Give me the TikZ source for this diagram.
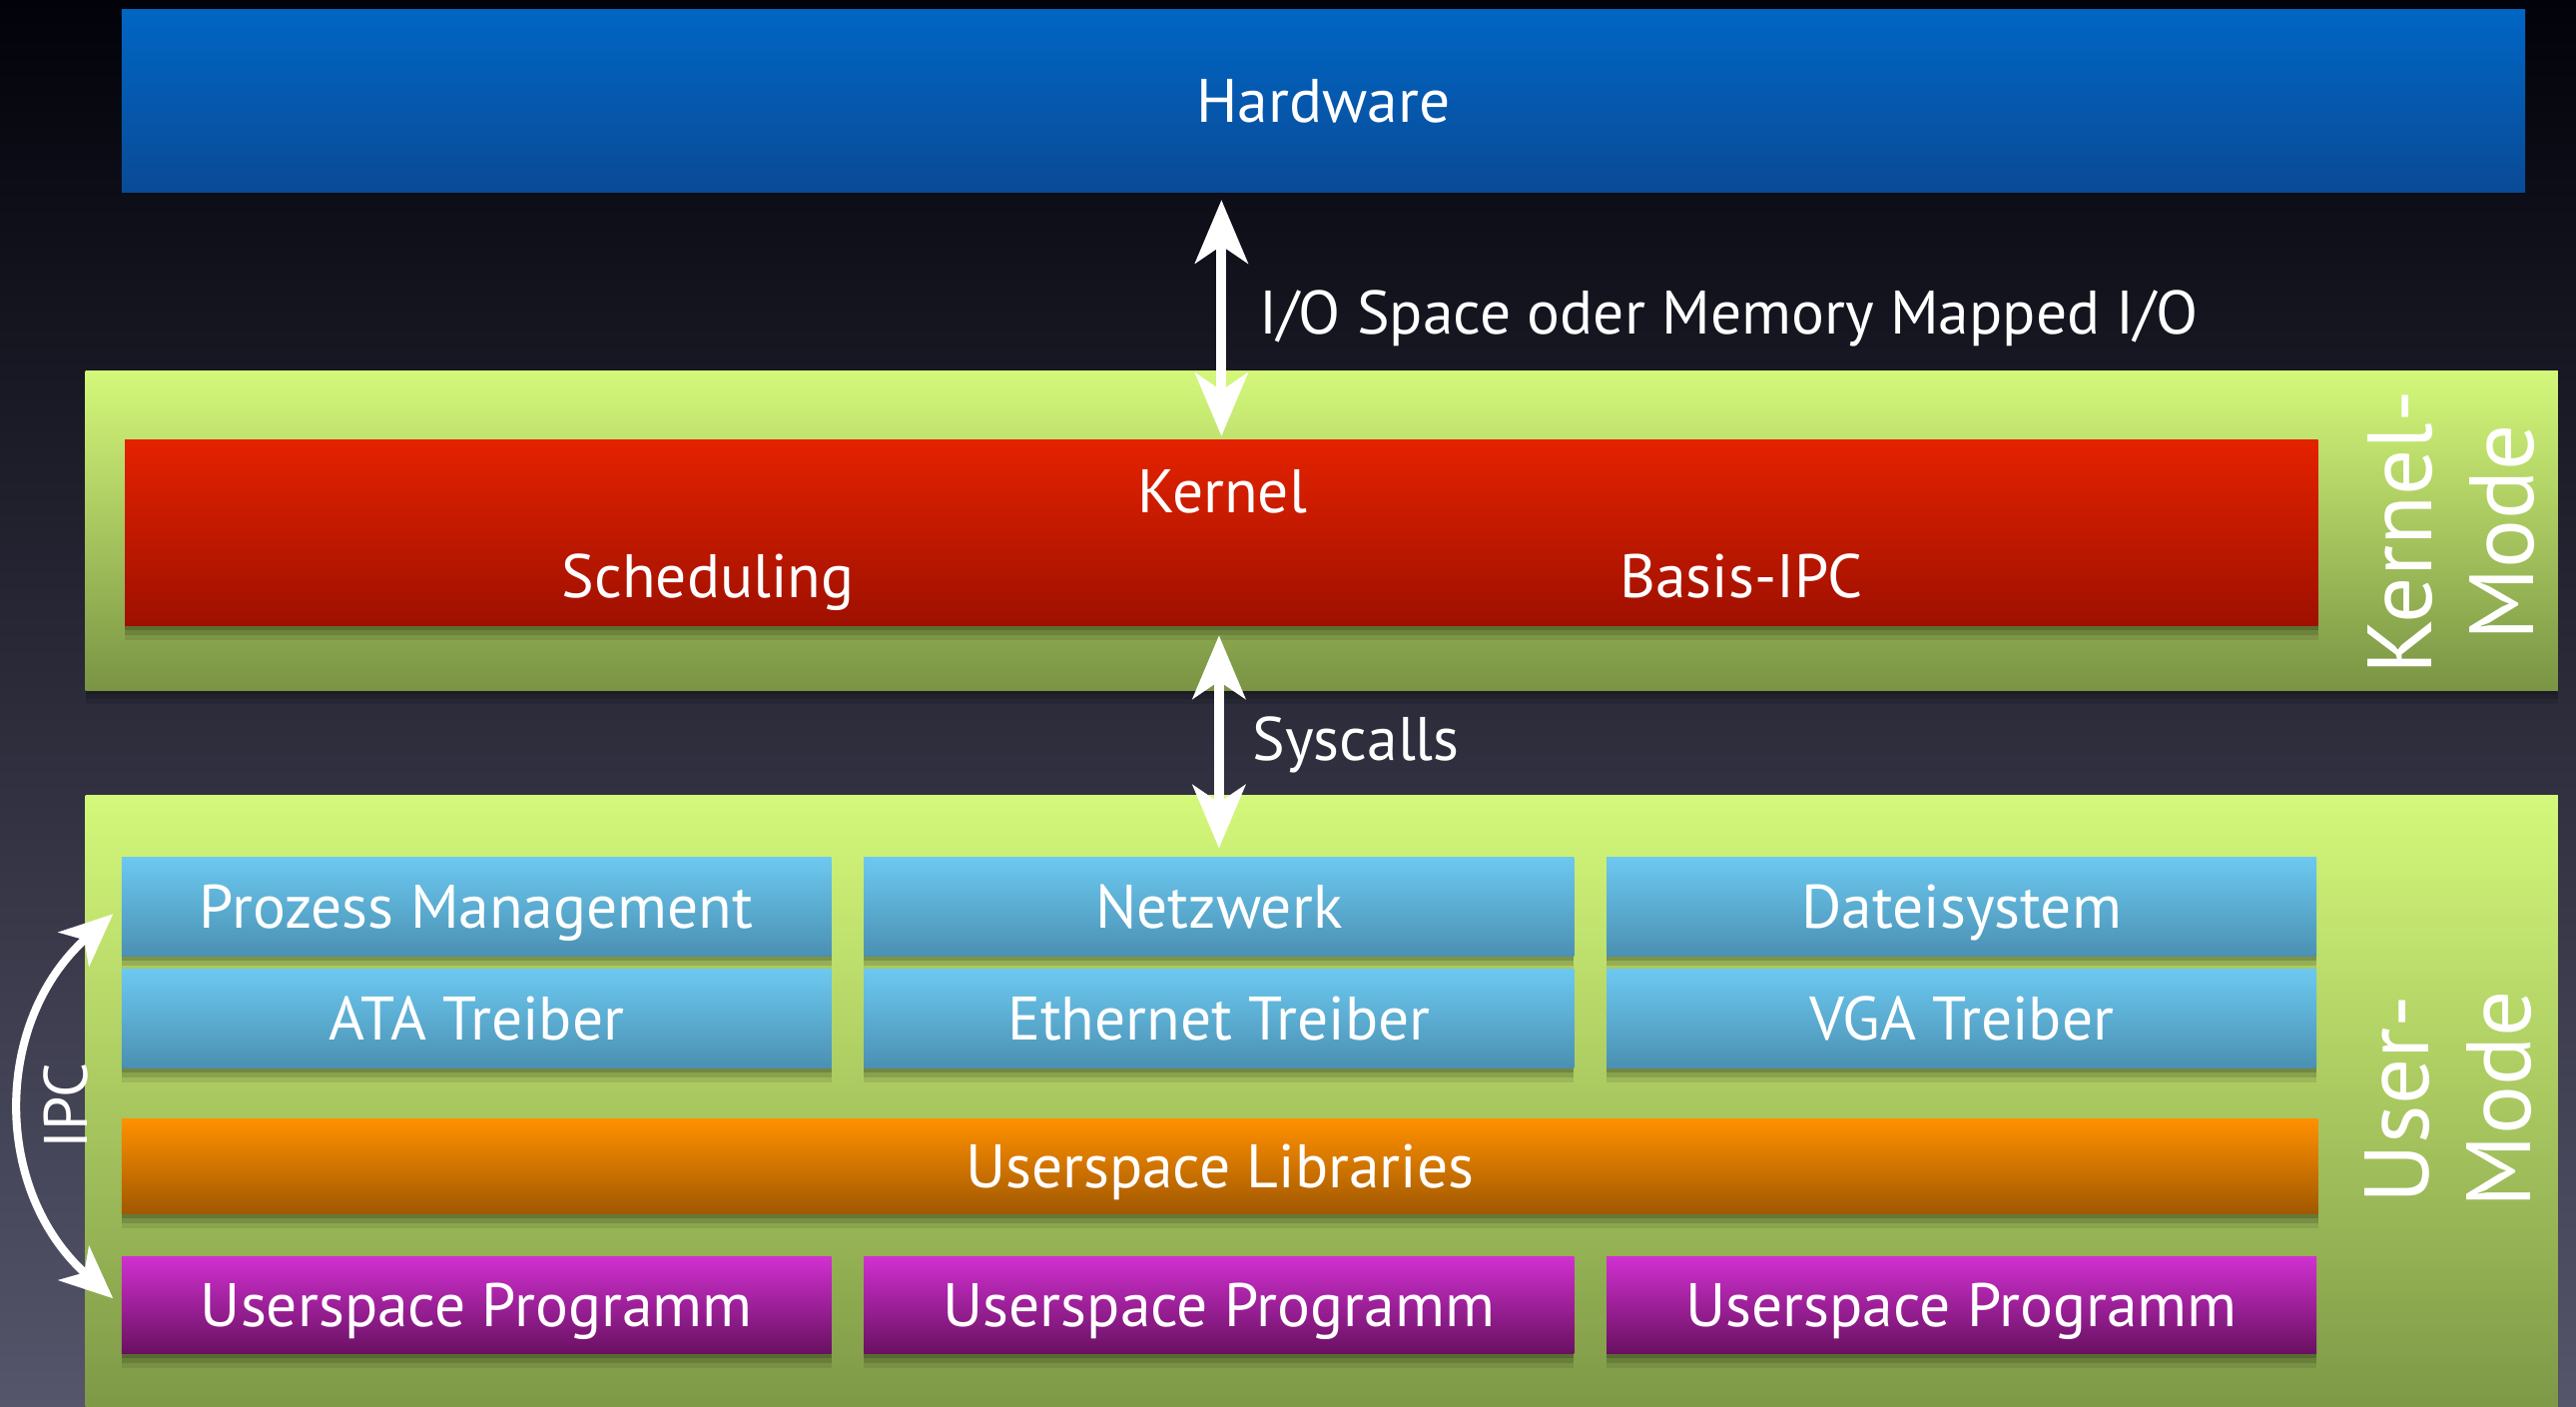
\documentclass[tikz,border=0pt]{standalone}
\usepackage{fontspec}
\setmainfont{PT Sans}
\usetikzlibrary{arrows.meta,shadows}

\definecolor{bgtop}{HTML}{02020A}
\definecolor{bgmid}{HTML}{0E0C24}
\definecolor{bgbot}{HTML}{55556B}
\definecolor{hwtop}{HTML}{0066C4}
\definecolor{hwbot}{HTML}{0A4A96}
\definecolor{grtop}{HTML}{D4F87A}
\definecolor{grbot}{HTML}{7A9444}
\definecolor{rdtop}{HTML}{E42200}
\definecolor{rdbot}{HTML}{9E1000}
\definecolor{bltop}{HTML}{6CC8F0}
\definecolor{blbot}{HTML}{4A90B2}
\definecolor{ortop}{HTML}{FF9000}
\definecolor{orbot}{HTML}{A05800}
\definecolor{pptop}{HTML}{D030D0}
\definecolor{ppbot}{HTML}{681060}

\newcommand\uu{0.016454cm}

\begin{document}
\begin{tikzpicture}[x=0.016454cm, y=-0.016454cm,
  layer/.style={rectangle, inner sep=0pt, text=white,
    text height=14pt, text depth=2pt,
    font=\fontsize{17.5}{21}\selectfont},
  shadowed/.style={
    drop shadow={shadow xshift=0pt, shadow yshift=-1.2pt, opacity=0.16, fill=black},
    drop shadow={shadow xshift=0pt, shadow yshift=-2.6pt, opacity=0.13, fill=black},
    drop shadow={shadow xshift=0pt, shadow yshift=-4pt, opacity=0.09, fill=black}},
  hwbox/.style={layer, top color=hwtop, bottom color=hwbot},
  panel/.style={layer, shadowed, top color=grtop, bottom color=grbot},
  kernelbox/.style={layer, shadowed, top color=rdtop, bottom color=rdbot},
  servicebox/.style={layer, shadowed, top color=bltop, bottom color=blbot,
    minimum width=432*\uu, minimum height=60*\uu},
  libbox/.style={layer, shadowed, top color=ortop, bottom color=orbot},
  progbox/.style={layer, shadowed, top color=pptop, bottom color=ppbot,
    minimum width=432*\uu, minimum height=59*\uu},
  lbl/.style={text=white, inner sep=0pt, font=\fontsize{17.5}{21}\selectfont},
  modelbl/.style={text=white, inner sep=0pt, rotate=90, align=center,
    font=\fontsize{26}{29}\selectfont},
  biarrow/.style={draw=white, line width=2.8pt,
    {Stealth[length=18pt,width=15pt,inset=5pt]}-{Stealth[length=18pt,width=15pt,inset=5pt]}},
  ipcarrow/.style={draw=white, line width=2.3pt,
    {Stealth[length=15pt,width=13pt,inset=4pt]}-{Stealth[length=15pt,width=13pt,inset=4pt]}}
]
% page and dark backdrop
\clip (0,0) rectangle (1568,856);
\shade[top color=bgtop, middle color=bgmid, bottom color=bgbot] (0,0) rectangle (1568,856);

% hardware layer
\node[hwbox, minimum width=1463*\uu, minimum height=111*\uu] (hw) at (805.5,61.5) {Hardware};

% kernel mode panel
\node[panel, minimum width=1505*\uu, minimum height=194*\uu] (kmode) at (804.5,323) {};
\node[kernelbox, minimum width=1335*\uu, minimum height=113*\uu] (kernel) at (743.5,324.5) {};
\node[lbl, anchor=base] (ktitle) at (744,312) {Kernel};
\node[lbl, anchor=base] (sched) at (431,364) {Scheduling};
\node[lbl, anchor=base] (bipc) at (1060,364) {Basis-IPC};
\node[modelbl] (kmlbl) at (1492,324) {Kernel-\\Mode};

% user mode panel
\node[panel, minimum width=1505*\uu, minimum height=390*\uu] (umode) at (804.5,679) {};
\node[servicebox] (pm) at (290,552) {Prozess Management};
\node[servicebox] (net) at (742,552) {Netzwerk};
\node[servicebox] (fs) at (1194,552) {Dateisystem};
\node[servicebox] (ata) at (290,620) {ATA Treiber};
\node[servicebox] (eth) at (742,620) {Ethernet Treiber};
\node[servicebox] (vga) at (1194,620) {VGA Treiber};
\node[libbox, minimum width=1337*\uu, minimum height=58*\uu] (libs) at (742.5,710) {Userspace Libraries};
\node[progbox] (prog1) at (290,794.5) {Userspace Programm};
\node[progbox] (prog2) at (742,794.5) {Userspace Programm};
\node[progbox] (prog3) at (1194,794.5) {Userspace Programm};
\node[modelbl] (umlbl) at (1490,669) {User-\\Mode};

% connectors
\draw[biarrow, shorten <=2pt, shorten >=1pt] (kernel.north |- hw.south) -- (kernel.north);
\node[lbl, anchor=base west] (iolbl) at (766,203) {I/O Space oder Memory Mapped I/O};
\draw[biarrow, shorten <=2.5pt, shorten >=2.5pt] (kernel.south -| net.north) -- (net.north);
\node[lbl, anchor=base west] (sclbl) at (762,463) {Syscalls};
\draw[ipcarrow, shorten <=3pt, shorten >=3pt] (pm.west) .. controls +(-78,70) and +(-78,-70) .. (prog1.west);
\node[lbl, rotate=90] (ipclbl) at (40,673) {IPC};
\end{tikzpicture}
\end{document}
